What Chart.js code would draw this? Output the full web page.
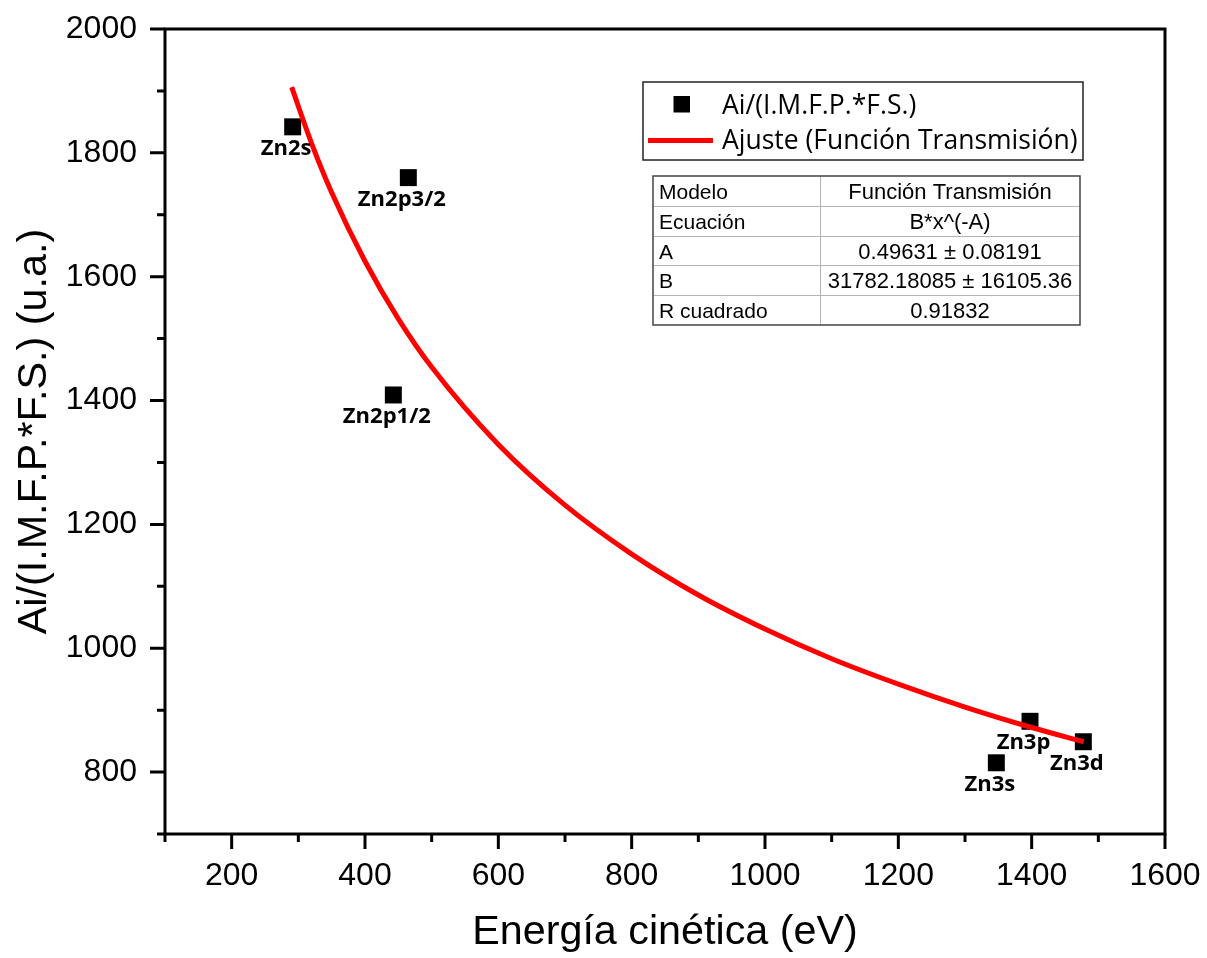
<!DOCTYPE html>
<html>
<head>
<meta charset="utf-8">
<script src="https://cdn.jsdelivr.net/npm/chart.js@4/dist/chart.umd.min.js"></script>
<style>
html,body{margin:0;padding:0;background:#fff;}
#wrap{width:1207px;height:958px;}
</style>
</head>
<body>
<div id="wrap"><canvas id="c" width="1207" height="958"></canvas></div>
<script>
// ---- data ----
const peakNames   = ['Zn2s', 'Zn2p1/2', 'Zn2p3/2', 'Zn3s', 'Zn3p', 'Zn3d'];
const energies    = [291.5, 442.5, 465, 1347, 1397.5, 1477.5];
const intensities = [1842, 1409, 1760, 815, 882, 849];

// fitted curve (Función Transmisión) sampled along the drawn red line
const fitX = [290, 320, 350, 400, 450, 500, 600, 700, 800, 900, 1000, 1100, 1200, 1300, 1400, 1478];
const fitY = [1906, 1815, 1736, 1625, 1532, 1454, 1329, 1231, 1152, 1086, 1031, 983, 942, 905, 872, 849];

const xTickMajor = [200, 400, 600, 800, 1000, 1200, 1400, 1600];
const yTickMajor = [800, 1000, 1200, 1400, 1600, 1800, 2000];

const legendLabels = ['Ai/(I.M.F.P.*F.S.)', 'Ajuste (Función Transmisión)'];
const tableRows = [
  ['Modelo', 'Función Transmisión'],
  ['Ecuación', 'B*x^(-A)'],
  ['A', '0.49631 ± 0.08191'],
  ['B', '31782.18085 ± 16105.36'],
  ['R cuadrado', '0.91832']
];

const scatterData = energies.map((e, i) => ({x: e, y: intensities[i]}));
const fitData = fitX.map((e, i) => ({x: e, y: fitY[i]}));

const decor = {
  id: 'decor',
  afterDraw(chart) {
    const ctx = chart.ctx;
    const a = chart.chartArea;
    const xs = chart.scales.x, ys = chart.scales.y;
    ctx.save();
    // frame
    ctx.strokeStyle = '#000';
    ctx.lineWidth = 3;
    ctx.strokeRect(a.left, a.top, a.right - a.left, a.bottom - a.top);
    // ticks
    ctx.lineWidth = 3;
    ctx.beginPath();
    xs.ticks.forEach(t => {
      const px = xs.getPixelForValue(t.value);
      const len = xTickMajor.includes(t.value) ? 15 : 8;
      ctx.moveTo(px, a.bottom); ctx.lineTo(px, a.bottom + len);
    });
    ys.ticks.forEach(t => {
      const py = ys.getPixelForValue(t.value);
      const len = yTickMajor.includes(t.value) ? 15 : 8;
      ctx.moveTo(a.left, py); ctx.lineTo(a.left - len, py);
    });
    ctx.stroke();

    // point labels
    const meta = chart.getDatasetMeta(1);
    ctx.fillStyle = '#000';
    ctx.font = 'bold 22px "Open Sans"';
    ctx.textAlign = 'center';
    ctx.textBaseline = 'alphabetic';
    meta.data.forEach((el, i) => {
      ctx.fillText(peakNames[i], el.x - 6.5, el.y + 28);
    });

    // legend box
    ctx.lineWidth = 1.5;
    ctx.strokeStyle = '#222';
    ctx.strokeRect(643, 82, 440, 78);
    ctx.fillStyle = '#000';
    ctx.fillRect(673.5, 96, 16.5, 16.5);
    ctx.strokeStyle = '#ff0000';
    ctx.lineWidth = 5;
    ctx.beginPath(); ctx.moveTo(648, 140.5); ctx.lineTo(713, 140.5); ctx.stroke();
    ctx.fillStyle = '#000';
    ctx.font = '26.5px "Open Sans"';
    ctx.textAlign = 'left';
    ctx.fillText(legendLabels[0], 722, 114);
    ctx.fillText(legendLabels[1], 722, 149);

    // table
    const tl = 653, tr = 1080, tt = 176, rowH = 29.8, colX = 820;
    const tb = tt + rowH * tableRows.length;
    ctx.strokeStyle = '#b4b4b4';
    ctx.lineWidth = 1;
    ctx.beginPath();
    for (let r = 1; r < tableRows.length; r++) {
      const y = Math.round(tt + rowH * r) + 0.5;
      ctx.moveTo(tl, y); ctx.lineTo(tr, y);
    }
    ctx.moveTo(colX + 0.5, tt); ctx.lineTo(colX + 0.5, tb);
    ctx.stroke();
    ctx.strokeStyle = '#444';
    ctx.lineWidth = 1.5;
    ctx.strokeRect(tl, tt, tr - tl, tb - tt);
    ctx.fillStyle = '#000';
    tableRows.forEach((row, r) => {
      const base = tt + rowH * r + 23;
      ctx.textAlign = 'left';
      ctx.font = '21px "Liberation Sans", Arial, sans-serif';
      ctx.fillText(row[0], 659, base);
      ctx.textAlign = 'center';
      ctx.font = '22px "Liberation Sans", Arial, sans-serif';
      ctx.fillText(row[1], (colX + tr) / 2, base);
    });
    ctx.restore();
  }
};

function noPad(s) {
  s.paddingTop = 0; s.paddingBottom = 0; s.paddingLeft = 0; s.paddingRight = 0;
}

new Chart(document.getElementById('c'), {
  type: 'scatter',
  data: {
    datasets: [
      {
        label: legendLabels[1],
        type: 'line',
        data: fitData,
        borderColor: '#ff0000',
        backgroundColor: '#ff0000',
        borderWidth: 5,
        pointRadius: 0,
        fill: false,
        cubicInterpolationMode: 'monotone',
        order: 0
      },
      {
        label: legendLabels[0],
        data: scatterData,
        pointStyle: 'rect',
        pointRadius: 12,
        pointHoverRadius: 12,
        backgroundColor: '#000',
        borderColor: '#000',
        borderWidth: 0,
        order: 1
      }
    ]
  },
  options: {
    responsive: false,
    animation: false,
    events: [],
    layout: {padding: {top: 29, right: 42, left: 0, bottom: 0}},
    plugins: {legend: {display: false}, tooltip: {enabled: false}},
    scales: {
      x: {
        type: 'linear',
        min: 100, max: 1600,
        border: {display: false},
        grid: {display: true, drawOnChartArea: false, drawTicks: false, color: 'rgba(0,0,0,0)'},
        ticks: {
          stepSize: 100, autoSkip: false, maxRotation: 0, padding: 23,
          color: '#000',
          font: {family: '"Liberation Sans", Arial, sans-serif', size: 32},
          callback: v => xTickMajor.includes(v) ? String(v) : ''
        },
        title: {
          display: true, text: 'Energía cinética (eV)', color: '#000',
          font: {family: '"Liberation Sans", Arial, sans-serif', size: 41.3},
          padding: {top: 0, bottom: 1}
        },
        afterFit(s) { s.height = 958 - 834; noPad(s); }
      },
      y: {
        type: 'linear',
        min: 700, max: 2000,
        border: {display: false},
        grid: {display: true, drawOnChartArea: false, drawTicks: false, color: 'rgba(0,0,0,0)'},
        ticks: {
          stepSize: 100, autoSkip: false, padding: 28,
          color: '#000',
          font: {family: '"Liberation Sans", Arial, sans-serif', size: 32},
          callback: v => yTickMajor.includes(v) ? String(v) : ''
        },
        title: {
          display: true, text: 'Ai/(I.M.F.P.*F.S.) (u.a.)', color: '#000',
          font: {family: '"Liberation Sans", Arial, sans-serif', size: 41.3},
          padding: {top: 10, bottom: 0}
        },
        afterFit(s) { s.width = 165; noPad(s); }
      }
    }
  },
  plugins: [decor]
});
</script>
</body>
</html>
